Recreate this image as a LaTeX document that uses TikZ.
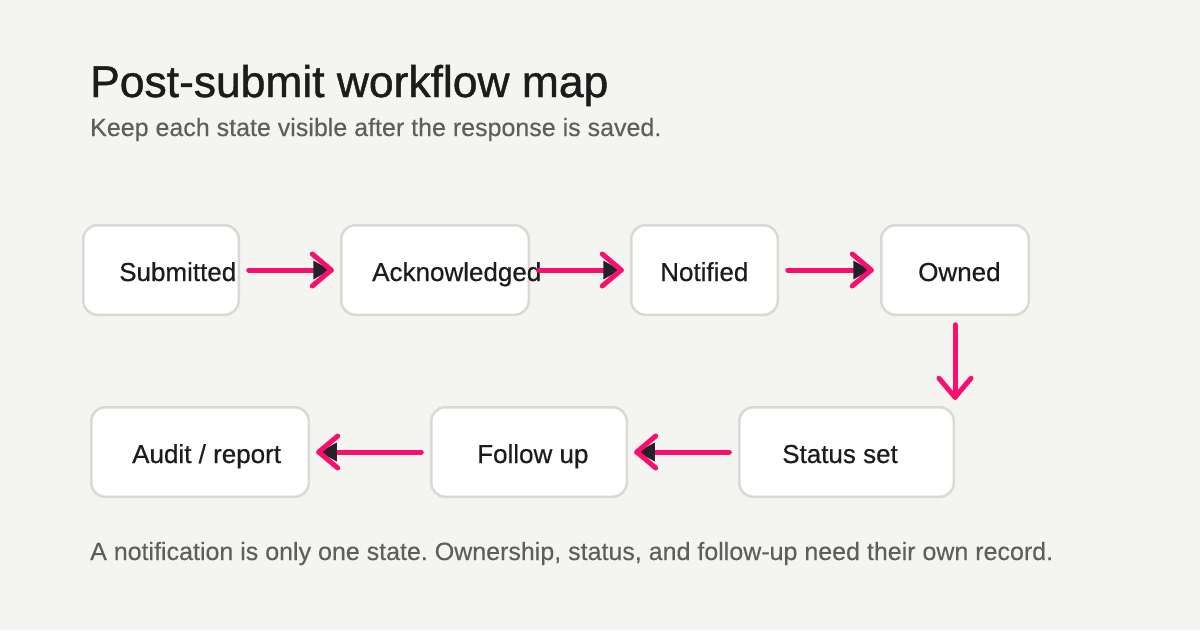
\documentclass[tikz,border=0pt]{standalone}
\usepackage{fontspec}
\setmainfont{Liberation Sans}
\newfontfamily\titlefont[FakeBold=1.0]{Liberation Sans}
\newfontfamily\labelfont[FakeBold=0.5]{Liberation Sans}
\newfontfamily\notefont[FakeBold=0.25]{Liberation Sans}
\usetikzlibrary{decorations.markings}
\definecolor{bg}{HTML}{F4F4F0}
\definecolor{boxborder}{HTML}{DAD9D4}
\definecolor{ink}{HTML}{1C1C1C}
\definecolor{subink}{HTML}{5E5E5E}
\definecolor{accent}{HTML}{FB0F6E}
\definecolor{tipdark}{HTML}{222228}
\frenchspacing
\begin{document}
\begin{tikzpicture}[x=1pt,y=-1pt,
  stbox/.style={draw=boxborder, line width=2.5pt, fill=white, rounded corners=14pt,
    minimum height=89.5pt, inner sep=0pt, outer sep=10pt},
  stlabel/.style={anchor=base west, inner sep=0pt, text=ink,
    font=\labelfont\fontsize{26}{30}\selectfont},
  notetext/.style={anchor=base west, inner sep=0pt, text=subink,
    font=\notefont\fontsize{25}{30}\selectfont},
  chevron/.style={decoration={markings, mark=at position 1 with {
      \draw[accent, line width=5pt, line cap=round, line join=round]
        (-19,-16) -- (0,0) -- (-19,16);}}},
  flowline/.style={draw=accent, line width=5pt, line cap=round},
  flow/.style={flowline, postaction={decorate}, decoration={markings,
    mark=at position 1 with {
      \fill[tipdark] (-18,-9.5) -- (-1,0) -- (-18,9.5) -- cycle;
      \draw[accent, line width=5pt, line cap=round, line join=round]
        (-19,-16) -- (0,0) -- (-19,16);}}},
  flowdown/.style={flowline, postaction={decorate}, chevron}
]
\fill[bg] (0,0) rectangle (1200,630);
\useasboundingbox (0,0) rectangle (1200,630);

\node[anchor=base west, inner sep=0pt, text=ink, font=\titlefont\fontsize{44.4}{50}\selectfont]
  (title) at (90,97) {Post-submit workflow map};
\node[notetext] (subtitle) at (90,136) {Keep each state visible after the response is saved.};

\node[stbox, minimum width=155.5pt] (sub) at (161,270) {};
\node[stbox, minimum width=187.5pt] (ack) at (435,270) {};
\node[stbox, minimum width=146.5pt] (not) at (704.5,270) {};
\node[stbox, minimum width=147.5pt] (own) at (955,270) {};
\node[stbox, minimum width=214.5pt] (sta) at (846.5,452) {};
\node[stbox, minimum width=195.5pt] (fol) at (529,452) {};
\node[stbox, minimum width=217.5pt] (aud) at (200,452) {};

\node[stlabel] (tsub) at (119,281) {Submitted};
\node[stlabel] (tack) at (372,281) {Acknowledged};
\node[stlabel] (tnot) at (660,281) {Notified};
\node[stlabel] (town) at (918,281) {Owned};
\node[stlabel] (tsta) at (782,463) {Status set};
\node[stlabel] (tfol) at (477,463) {Follow up};
\node[stlabel] (taud) at (132,463) {Audit / report};

\draw[flow] (sub) -- (ack);
\draw[flow] (ack) -- (not);
\draw[flow] (not) -- (own);
\draw[flowdown] (own) -- (own |- sta.north);
\draw[flow] (sta) -- (fol);
\draw[flow] (fol) -- (aud);

\node[notetext] (footer) at (90,560) {A notification is only one state. Ownership, status, and follow-up need their own record.};
\end{tikzpicture}
\end{document}
